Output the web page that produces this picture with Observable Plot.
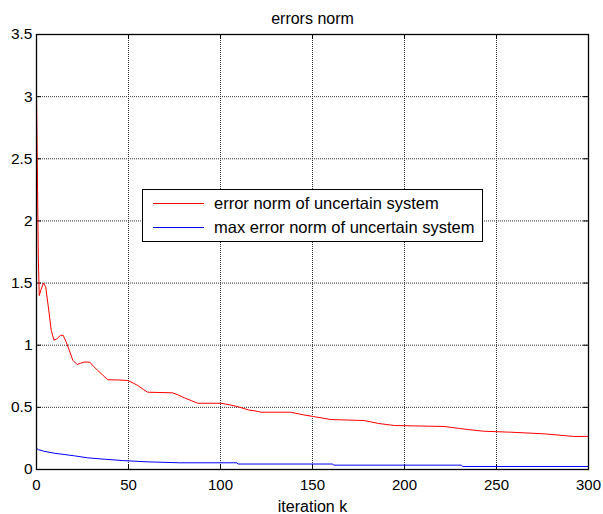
<!DOCTYPE html>
<html>
<head>
<meta charset="utf-8">
<script src="https://cdn.jsdelivr.net/npm/d3@7"></script>
<script src="https://cdn.jsdelivr.net/npm/@observablehq/plot@0.6"></script>
<style>
  html, body { margin: 0; padding: 0; background: #fff; }
  #wrap { position: relative; width: 603px; height: 514px; font-family: "Liberation Sans", Arial, sans-serif; }
  #legend { position: absolute; left: 142px; top: 189px; width: 339px; height: 51px; border: 1px solid #000; background: #fff; }
  .row { position: absolute; left: 0; height: 20px; display: flex; align-items: center; font-size: 16.5px; color: #000; white-space: nowrap; }
  .sw { width: 51px; height: 1px; margin-left: 10px; margin-right: 10px; }
</style>
</head>
<body>
<div id="wrap"></div>
<script>
const titleText = "errors norm";
const xLabelText = "iteration k";
const legendLabels = ["error norm of uncertain system", "max error norm of uncertain system"];
const seriesColors = ["#ff0000", "#0000ff"];

const xTicks = [0, 50, 100, 150, 200, 250, 300];
const yTicks = [0, 0.5, 1, 1.5, 2, 2.5, 3, 3.5];

// error norm of uncertain system (k, value)
const errK = [0, 1, 1.5, 2.5, 3.8, 5, 6.5, 8, 9.5, 11, 13, 14.5, 16, 17.8, 19.7, 22, 24, 26, 29, 31, 33.3, 36, 38.7, 45, 49.5, 52, 55, 58, 60.4, 74, 77, 80.3, 84, 87.6, 100.3, 105, 109, 115, 120, 122, 138, 145, 150.6, 160, 178, 186, 194.5, 221.6, 230, 236, 243, 258, 276, 285, 292, 300];
const errV = [3.03, 1.70, 1.40, 1.45, 1.50, 1.47, 1.30, 1.12, 1.04, 1.05, 1.08, 1.08, 1.03, 0.96, 0.88, 0.845, 0.855, 0.865, 0.863, 0.83, 0.796, 0.76, 0.722, 0.72, 0.716, 0.70, 0.676, 0.645, 0.622, 0.617, 0.60, 0.577, 0.555, 0.533, 0.533, 0.52, 0.507, 0.48, 0.468, 0.461, 0.461, 0.44, 0.426, 0.402, 0.394, 0.37, 0.354, 0.346, 0.33, 0.319, 0.308, 0.30, 0.287, 0.275, 0.266, 0.266];

// max error norm of uncertain system (k, value)
const maxK = [0, 1, 4, 9.7, 15, 20.6, 27.8, 36.8, 46.8, 59.5, 77.6, 109, 109.5, 161, 161.5, 231, 231.5, 300];
const maxV = [0.17, 0.16, 0.147, 0.131, 0.121, 0.11, 0.094, 0.083, 0.072, 0.062, 0.054, 0.054, 0.044, 0.044, 0.035, 0.035, 0.024, 0.024];

const errData = errK.map((k, i) => ({k, v: errV[i]}));
const maxData = maxK.map((k, i) => ({k, v: maxV[i]}));

const W = 603, H = 514;
const mL = 36, mR = 15, mT = 34, mB = 45;
const fw = W - mL - mR, fh = H - mT - mB;
const tick = 5;

const chart = Plot.plot({
  width: W,
  height: H,
  marginLeft: mL,
  marginRight: mR,
  marginTop: mT,
  marginBottom: mB,
  style: { fontFamily: "'Liberation Sans', Arial, sans-serif", fontSize: "15px", background: "#fff", color: "#000" },
  x: { domain: [0, 300], label: null },
  y: { domain: [0, 3.5], label: null },
  marks: [
    Plot.ruleX(xTicks, { x: d => d, stroke: "#333", strokeDasharray: "1,1", strokeWidth: 1 }),
    Plot.ruleY(yTicks, { y: d => d, stroke: "#333", strokeDasharray: "1,1", strokeWidth: 1 }),
    Plot.tickX(xTicks, { x: d => d, insetTop: fh - tick, stroke: "#000" }),
    Plot.tickX(xTicks, { x: d => d, insetBottom: fh - tick, stroke: "#000" }),
    Plot.tickY(yTicks, { y: d => d, insetRight: fw - tick, stroke: "#000" }),
    Plot.tickY(yTicks, { y: d => d, insetLeft: fw - tick, stroke: "#000" }),
    Plot.line(maxData, { x: "k", y: "v", stroke: seriesColors[1], strokeWidth: 1 }),
    Plot.line(errData, { x: "k", y: "v", stroke: seriesColors[0], strokeWidth: 1 }),
    Plot.frame({ stroke: "#000", strokeWidth: 1.3 }),
    Plot.axisX({ ticks: xTicks, tickSize: 0, tickPadding: 10, fontSize: 15, label: null }),
    Plot.axisY({ ticks: yTicks, tickSize: 0, tickPadding: 4, fontSize: 15.5, label: null, tickFormat: d => String(d) }),
    Plot.text([titleText], { frameAnchor: "top", lineAnchor: "middle", dy: -16, fontSize: 16, fill: "#000" }),
    Plot.text([xLabelText], { frameAnchor: "bottom", lineAnchor: "middle", dy: 37, fontSize: 16, fill: "#000" })
  ]
});

const wrap = document.getElementById("wrap");
wrap.appendChild(chart);

const legend = document.createElement("div");
legend.id = "legend";
legendLabels.forEach((lab, i) => {
  const row = document.createElement("div");
  row.className = "row";
  row.style.top = (i === 0 ? 3 : 27) + "px";
  const sw = document.createElement("div");
  sw.className = "sw";
  sw.style.backgroundColor = seriesColors[i];
  const t = document.createElement("span");
  t.textContent = lab;
  row.appendChild(sw);
  row.appendChild(t);
  legend.appendChild(row);
});
wrap.appendChild(legend);
</script>
</body>
</html>
